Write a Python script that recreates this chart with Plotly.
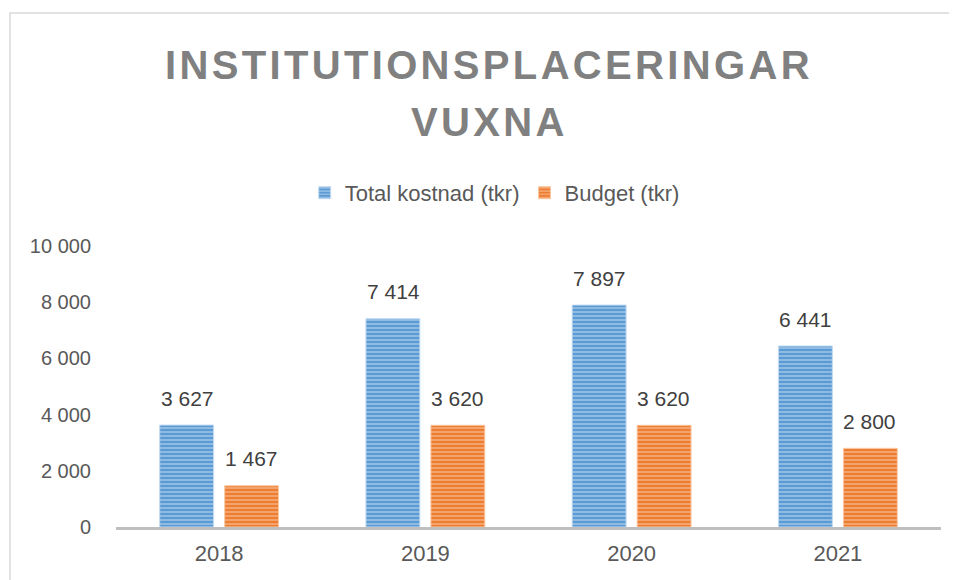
import plotly.graph_objects as go

years = ["2018", "2019", "2020", "2021"]
total_kostnad = [3627, 7414, 7897, 6441]
budget = [1467, 3620, 3620, 2800]
y_ticks = [0, 2000, 4000, 6000, 8000, 10000]
title_lines = ["INSTITUTIONSPLACERINGAR", "VUXNA"]

FONT = "Liberation Sans"


def fmt(v):
    return f"{v:,}".replace(",", " ")


fig = go.Figure()
series = [
    ("Total kostnad (tkr)", total_kostnad, "#5b9bd5", "#c3daf0", -32),
    ("Budget (tkr)", budget, "#ed7d31", "#f9c9a6", 32),
]
for name, vals, dark, light, shift in series:
    fig.add_trace(go.Bar(
        x=years, y=vals, name=name,
        marker=dict(
            color=dark,
            line=dict(color=light, width=1),
            pattern=dict(shape="-", fgcolor=light, bgcolor=dark, size=4, solidity=0.5),
        ),
    ))
    # year strings look numeric to plotly.js, so place labels by category index
    for i, v in enumerate(vals):
        fig.add_annotation(x=i, y=v, text=fmt(v), showarrow=False, xshift=shift, yshift=27,
                           font=dict(family=FONT, size=21, color="#404040"))

# spaced-out title, one annotation per line
for i, line in enumerate(title_lines):
    fig.add_annotation(xref="paper", yref="paper", x=0.45, y=1.645 - i * 0.203,
                       text="\u200a".join(line), showarrow=False, yanchor="middle",
                       font=dict(family=FONT, size=40, color="#808080", weight="bold"))

fig.add_shape(type="rect", xref="paper", yref="paper", x0=-0.1285, y0=-0.4, x1=1.2, y1=1.829,
              line=dict(color="#d9d9d9", width=1.5), fillcolor="rgba(0,0,0,0)", layer="below")

# page body adds an 8px offset, so the figure is 8px smaller than the window
fig.update_layout(
    width=949, height=572,
    paper_bgcolor="white", plot_bgcolor="white",
    margin=dict(l=108, r=16, t=238, b=53),
    legend=dict(orientation="h", x=0.459, xanchor="center", y=1.189, yanchor="middle",
                font=dict(family=FONT, size=22, color="#595959")),
    barmode="group", bargap=0.37, bargroupgap=0.17,
    font=dict(family=FONT, size=20, color="#595959"),
)
fig.update_yaxes(range=[0, 10000], tickvals=y_ticks, ticktext=[fmt(t) for t in y_ticks],
                 showgrid=False, zeroline=False, showline=False, ticks="", ticklabelstandoff=24)
fig.update_xaxes(type="category", categoryorder="array", categoryarray=years, range=[-0.5, 3.5],
                 showline=True, linecolor="#bfbfbf", linewidth=3, ticks="", showgrid=False,
                 tickfont=dict(size=22), ticklabelstandoff=5)

fig.write_html("out.html")
